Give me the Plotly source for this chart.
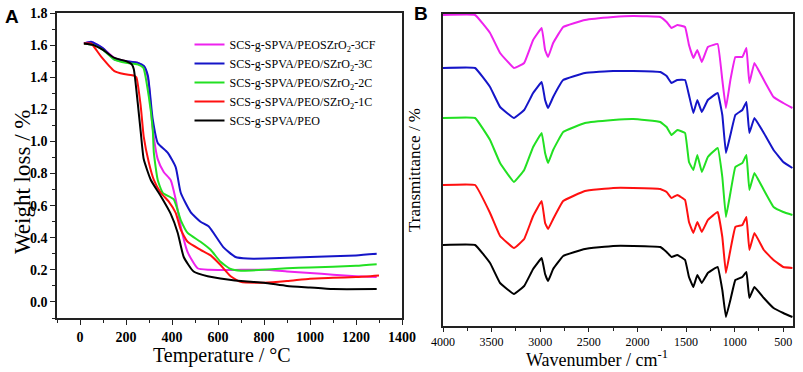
import plotly.graph_objects as go

# ---------------- Panel A: TGA (Temperature °C vs Weight loss %) ----------------
names = [
    "SCS-g-SPVA/PEOSZrO<sub>2</sub>-3CF",
    "SCS-g-SPVA/PEO/SZrO<sub>2</sub>-3C",
    "SCS-g-SPVA/PEO/SZrO<sub>2</sub>-2C",
    "SCS-g-SPVA/PEO/SZrO<sub>2</sub>-1C",
    "SCS-g-SPVA/PEO",
]
colors = ["#ee22ee", "#1515c8", "#22e022", "#ff1010", "#000000"]

t_3cf = [17, 50, 100, 150, 200, 250, 280, 297, 316, 338, 364, 394, 416, 438, 468, 511, 560, 700, 800, 900, 1000, 1100, 1200, 1290]
w_3cf = [1.61, 1.62, 1.58, 1.52, 1.50, 1.49, 1.46, 1.38, 1.08, 0.89, 0.81, 0.76, 0.64, 0.47, 0.31, 0.21, 0.20, 0.20, 0.20, 0.19, 0.18, 0.17, 0.16, 0.155]

t_3c = [17, 50, 100, 150, 200, 250, 278, 295, 316, 338, 381, 416, 438, 481, 524, 560, 624, 676, 728, 800, 1000, 1200, 1290]
w_3c = [1.61, 1.62, 1.58, 1.51, 1.50, 1.49, 1.47, 1.41, 1.14, 0.99, 0.93, 0.84, 0.68, 0.56, 0.50, 0.47, 0.34, 0.28, 0.27, 0.27, 0.28, 0.29, 0.30]

t_2c = [17, 60, 100, 150, 200, 250, 275, 299, 316, 321, 338, 360, 407, 438, 468, 524, 568, 611, 655, 700, 800, 900, 1000, 1200, 1290]
w_2c = [1.61, 1.60, 1.57, 1.51, 1.49, 1.48, 1.46, 1.28, 1.08, 0.93, 0.76, 0.68, 0.64, 0.51, 0.43, 0.375, 0.325, 0.25, 0.205, 0.195, 0.20, 0.21, 0.215, 0.225, 0.235]

t_1c = [17, 48, 91, 148, 191, 234, 245, 264, 277, 299, 321, 351, 386, 416, 438, 468, 524, 568, 611, 655, 698, 800, 900, 1000, 1100, 1200, 1300]
w_1c = [1.61, 1.61, 1.53, 1.44, 1.42, 1.41, 1.40, 1.22, 1.03, 0.87, 0.76, 0.68, 0.625, 0.555, 0.45, 0.375, 0.325, 0.29, 0.23, 0.16, 0.125, 0.12, 0.13, 0.145, 0.15, 0.155, 0.165]

t_peo = [17, 60, 100, 150, 200, 225, 234, 251, 264, 277, 308, 351, 394, 425, 451, 494, 555, 642, 700, 800, 900, 1000, 1100, 1290]
w_peo = [1.61, 1.60, 1.57, 1.52, 1.50, 1.48, 1.45, 1.24, 1.06, 0.89, 0.76, 0.66, 0.55, 0.43, 0.28, 0.19, 0.16, 0.14, 0.13, 0.12, 0.10, 0.09, 0.08, 0.08]

tga_t = [t_3cf, t_3c, t_2c, t_1c, t_peo]
tga_w = [w_3cf, w_3c, w_2c, w_1c, w_peo]

tga_xticks = [0, 200, 400, 600, 800, 1000, 1200, 1400]
tga_yticks = [0.0, 0.2, 0.4, 0.6, 0.8, 1.0, 1.2, 1.4, 1.6, 1.8]

# ---------------- Panel B: FTIR (stacked, arbitrary units) ----------------
wavenumber = [4000, 3670, 3516, 3413, 3270, 3165, 3073, 2985, 2950, 2919,
              2867, 2764, 2540, 2250, 2043, 1765, 1700, 1650, 1590, 1510,
              1470, 1425, 1384, 1338, 1276, 1175, 1127, 1090, 1044, 993,
              921, 879, 849, 797, 700, 600, 500, 406]

tr_3cf = [311, 311, 293, 273, 258, 263, 286, 298, 276, 269,
          283, 299, 306, 309, 310, 309, 304, 298, 301, 299,
          281, 268, 276, 264, 279, 282, 246, 218, 246, 269,
          269, 278, 243, 263, 246, 229, 223, 218]
tr_3c = [258, 258, 239, 219, 208, 216, 233, 244, 226, 218,
         229, 246, 253, 255, 255, 254, 250, 243, 246, 246,
         231, 213, 226, 214, 226, 233, 211, 173, 191, 211,
         216, 224, 193, 208, 193, 176, 164, 158]
tr_2c = [208, 208, 186, 163, 144, 156, 179, 193, 173, 163,
         176, 194, 203, 206, 207, 204, 199, 191, 196, 193,
         164, 156, 171, 154, 169, 178, 149, 109, 133, 159,
         163, 171, 136, 153, 136, 119, 114, 111]
tr_1c = [141, 141, 113, 90, 78, 87, 110, 125, 103, 97,
         107, 125, 135, 138, 138, 137, 134, 128, 131, 126,
         104, 93, 104, 94, 106, 114, 89, 53, 76, 99,
         101, 109, 76, 93, 76, 66, 59, 58]
tr_peo = [81, 81, 63, 43, 32, 40, 57, 68, 52, 45,
          57, 70, 77, 80, 80, 79, 74, 69, 71, 66,
          49, 39, 51, 43, 53, 59, 36, 9, 26, 46,
          49, 54, 28, 39, 28, 18, 13, 9]
ftir = [tr_3cf, tr_3c, tr_2c, tr_1c, tr_peo]

ftir_xticks = [4000, 3500, 3000, 2500, 2000, 1500, 1000, 500]

SERIF = "Liberation Serif"
SANS = "Liberation Sans"

fig = go.Figure()
for i in range(5):
    fig.add_trace(go.Scatter(
        x=tga_t[i], y=tga_w[i], mode="lines", name=names[i],
        line=dict(color=colors[i], width=2, shape="spline", smoothing=0.5),
        xaxis="x", yaxis="y", showlegend=True))
for i in range(5):
    fig.add_trace(go.Scatter(
        x=wavenumber, y=ftir[i], mode="lines", name=names[i],
        line=dict(color=colors[i], width=2, shape="spline", smoothing=0.25),
        xaxis="x2", yaxis="y2", showlegend=False))

axis_common = dict(showline=True, linecolor="#222", linewidth=1.5, mirror=True,
                   showgrid=False, zeroline=False, ticks="outside",
                   tickcolor="#222", tickwidth=1.2, automargin=False)

fig.update_layout(
    template="none",
    width=803, height=372,
    margin=dict(l=0, r=0, t=0, b=0),
    paper_bgcolor="white", plot_bgcolor="white",
    font=dict(family=SERIF, color="black"),
    xaxis=dict(domain=[57/803, 402/803], range=[-100, 1400], anchor="y",
               tickvals=tga_xticks, ticklen=5,
               minor=dict(dtick=100, tick0=0, ticks="outside", ticklen=3, tickcolor="#222"),
               tickfont=dict(family=SERIF, size=14, weight="bold"),
               **axis_common),
    yaxis=dict(domain=[1-318/372, 1-13/372], range=[-0.1, 1.8], anchor="x",
               tickvals=tga_yticks, tickformat=".1f", ticklen=5,
               minor=dict(dtick=0.1, tick0=0, ticks="outside", ticklen=3, tickcolor="#222"),
               tickfont=dict(family=SERIF, size=14, weight="bold"),
               **axis_common),
    xaxis2=dict(domain=[443/803, 793/803], range=[4000, 400], anchor="y2",
                tickvals=ftir_xticks, ticklen=4,
                minor=dict(dtick=250, tick0=0, ticks="outside", ticklen=3, tickcolor="#222"),
                tickfont=dict(family=SERIF, size=12),
                **axis_common),
    yaxis2=dict(domain=[1-326/372, 1-14/372], range=[0, 312], anchor="x2",
                showticklabels=False, automargin=False,
                showline=True, linecolor="#222", linewidth=1.5, mirror=True,
                showgrid=False, zeroline=False, ticks=""),
    legend=dict(x=0.236, y=1-30/372, xanchor="left", yanchor="top",
                bgcolor="rgba(0,0,0,0)", borderwidth=0,
                font=dict(family=SERIF, size=12), itemwidth=30,
                tracegroupgap=0),
    annotations=[
        dict(text="<b>A</b>", x=3/803, y=1-4/372, xref="paper", yref="paper",
             xanchor="left", yanchor="top", showarrow=False,
             font=dict(family=SANS, size=19)),
        dict(text="<b>B</b>", x=412/803, y=1-1/372, xref="paper", yref="paper",
             xanchor="left", yanchor="top", showarrow=False,
             font=dict(family=SANS, size=19)),
        dict(text="Weight loss / %", x=22/803, y=1-182/372, xref="paper", yref="paper",
             xanchor="center", yanchor="middle", showarrow=False, textangle=-90,
             font=dict(family=SERIF, size=23)),
        dict(text="Temperature / \u00b0C", x=222/803, y=1-355/372, xref="paper", yref="paper",
             xanchor="center", yanchor="middle", showarrow=False,
             font=dict(family=SERIF, size=20)),
        dict(text="Transmittance / %", x=414/803, y=1-170/372, xref="paper", yref="paper",
             xanchor="center", yanchor="middle", showarrow=False, textangle=-90,
             font=dict(family=SERIF, size=17)),
        dict(text="Wavenumber / cm<sup>-1</sup>", x=597/803, y=1-358/372, xref="paper", yref="paper",
             xanchor="center", yanchor="middle", showarrow=False,
             font=dict(family=SERIF, size=18)),
    ],
)

fig.write_html("out.html", config={"displayModeBar": False},
               post_script="document.body.style.margin='0';document.body.style.padding='0';")
